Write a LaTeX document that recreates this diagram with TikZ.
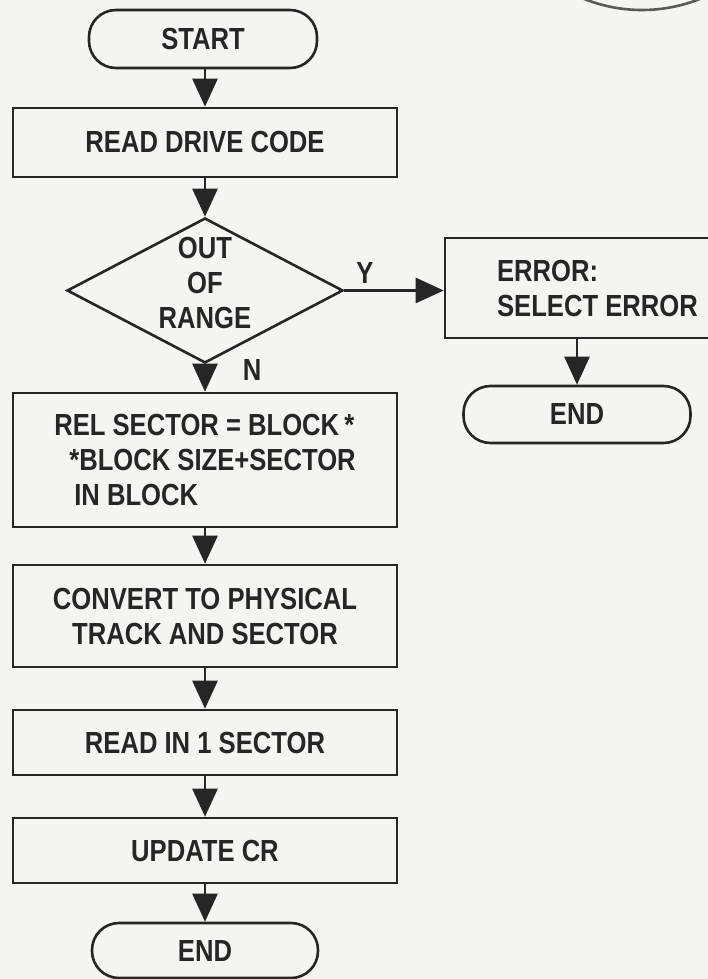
\documentclass[tikz,border=0pt]{standalone}
\usepackage{fontspec}
\setmainfont{Liberation Sans}[FakeStretch=0.84]
\usetikzlibrary{arrows.meta,shapes.geometric}
\definecolor{ink}{RGB}{38,38,38}
\definecolor{paper}{RGB}{244,244,242}
\definecolor{faint}{RGB}{90,90,90}
\begin{document}
\begin{tikzpicture}[x=1pt,y=-1pt,
  every node/.style={font=\fontsize{30.5}{35}\selectfont\bfseries, text=ink, inner sep=0pt},
  outline/.style={draw=ink, line width=2.6pt},
  procbox/.style={outline, rectangle},
  termbox/.style={outline, rectangle, rounded corners=27pt},
  decide/.style={outline, diamond},
  arr/.style={draw=ink, line width=2.6pt, -{Triangle[length=28pt,width=25pt]}},
  flowlabel/.style={font=\fontsize{30.5}{35}\selectfont\bfseries}
]
\clip (0,0) rectangle (708,979);
\fill[paper] (0,0) rectangle (708,979);
% stray circle fragment at the top right edge
\draw[faint, line width=2.6pt] (642,-146) circle[radius=156pt];

% main column
\node[termbox, minimum width=228pt, minimum height=58pt] (start) at (203,39) {START};
\node[procbox, minimum width=384pt, minimum height=69pt] (read) at (205,142.5) {READ DRIVE CODE};
\node[decide, minimum width=276pt, minimum height=145pt] (dec) at (205,290.5) {};
\node[align=center] (dectext) at (205,283) {OUT\\OF\\RANGE};
\node[procbox, minimum width=384pt, minimum height=134pt, align=left] (rel) at (205,460)
  {REL SECTOR = BLOCK\,*\\\hspace*{15pt}*BLOCK SIZE+SECTOR\\\hspace*{20pt}IN BLOCK};
\node[procbox, minimum width=384pt, minimum height=102pt, align=center] (conv) at (205,616)
  {CONVERT TO PHYSICAL\\TRACK AND SECTOR};
\node[procbox, minimum width=384pt, minimum height=65pt] (readin) at (205,742.5) {READ IN 1 SECTOR};
\node[procbox, minimum width=384pt, minimum height=65pt] (upd) at (205,850.5) {UPDATE CR};
\node[termbox, minimum width=226pt, minimum height=55pt] (endone) at (205,950.5) {END};

% error branch
\node[procbox, minimum width=305pt, minimum height=100pt, align=left] (err) at (597.5,288)
  {ERROR:\\SELECT ERROR};
\node[termbox, minimum width=227pt, minimum height=57pt] (endtwo) at (577,414.5) {END};

% labels
\node[flowlabel] (ylab) at (365,273) {Y};
\node[flowlabel] (nlab) at (252,370) {N};

% connectors
\draw[arr] (read.north |- start.south) -- (read.north);
\draw[arr] (read.south) -- (dec.north);
\draw[arr] (dec.east) -- (dec.east -| err.west);
\draw[arr] (dec.south) -- (rel.north);
\draw[arr] (rel.south) -- (conv.north);
\draw[arr] (conv.south) -- (readin.north);
\draw[arr] (readin.south) -- (upd.north);
\draw[arr] (upd.south) -- (endone.north);
\draw[arr] (endtwo.north |- err.south) -- (endtwo.north);
\end{tikzpicture}
\end{document}
